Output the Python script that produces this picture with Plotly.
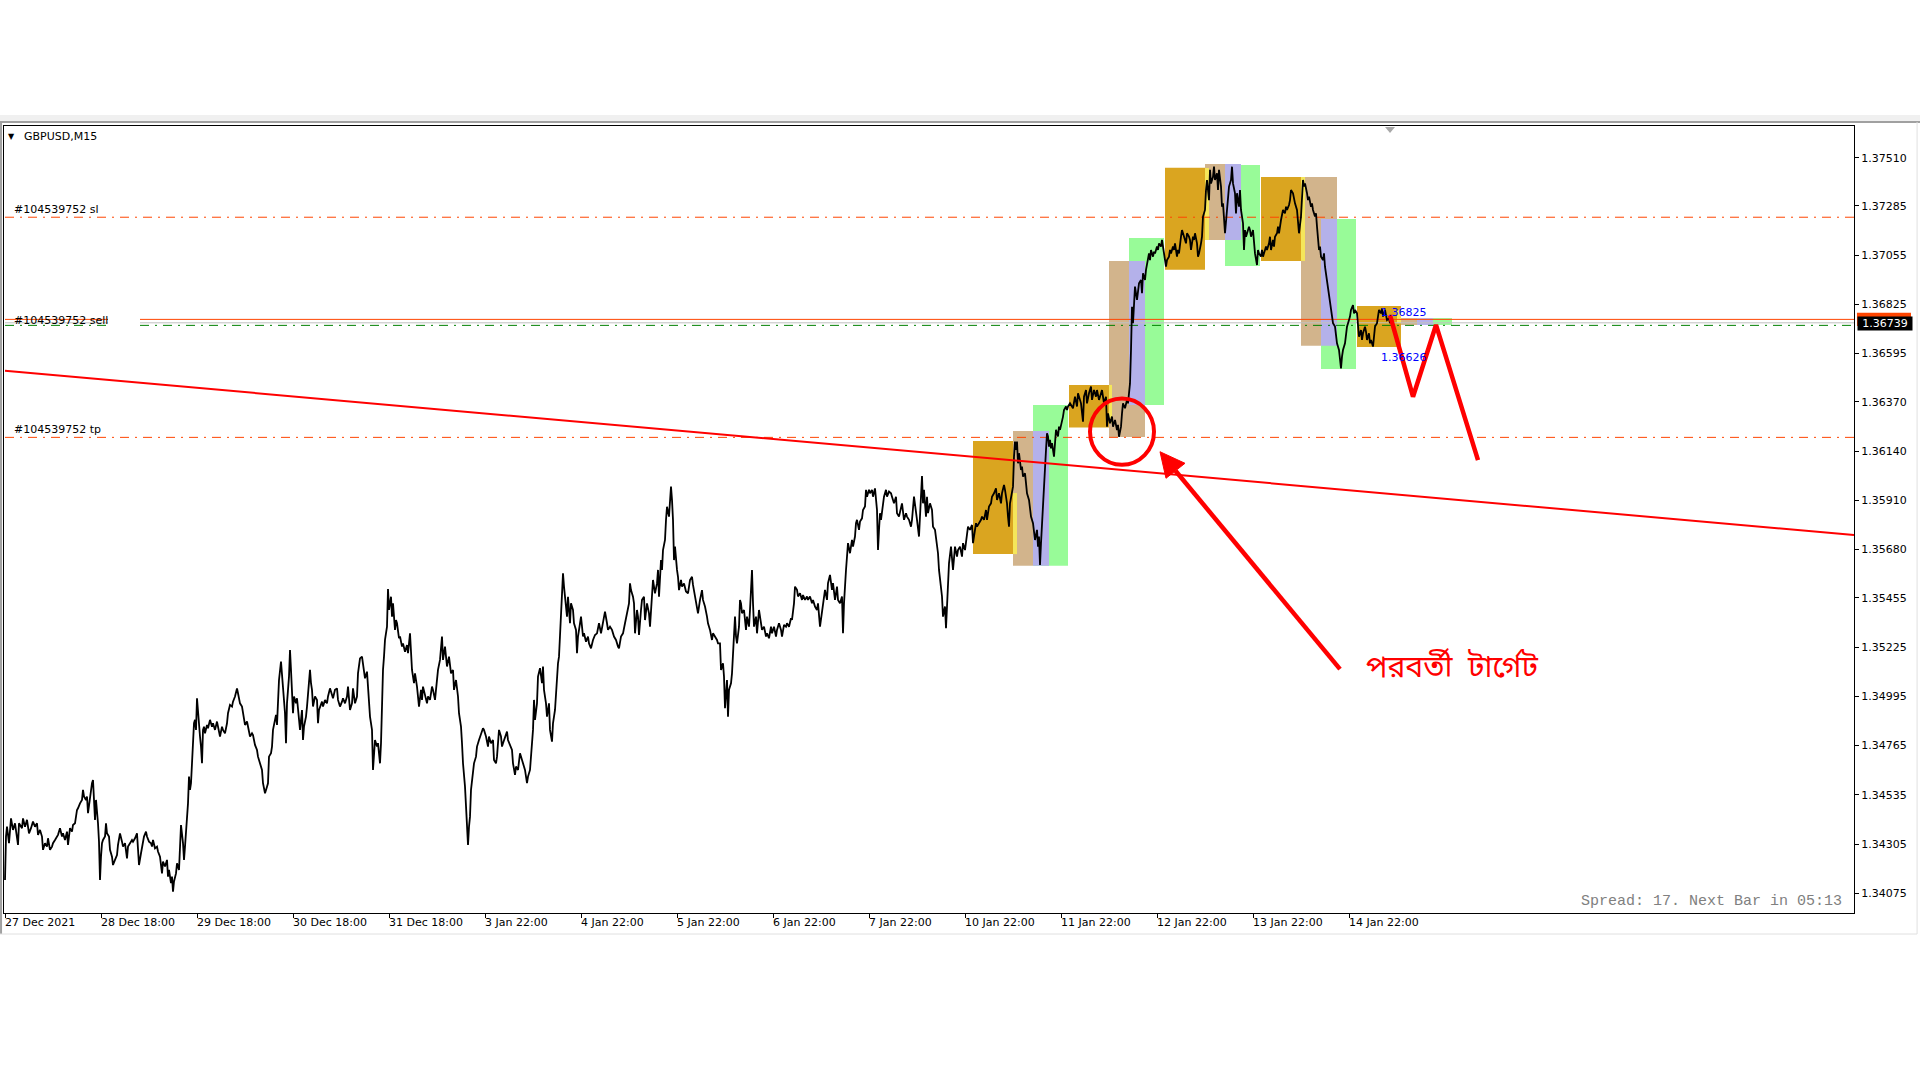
import plotly.graph_objects as go

# ---------------- price data (bar index, close) ----------------
bars_1 = [0,1,2,4,6,8,10,12,13,14,17,18,20,22,24,26,28,30,32,33,35,37,38,40,42,43,45,47,48,50,52,53,55,57,58,60,62,63,65,67,68,70,72,73,75,77,78,79,81,82,83,85,87,88,89,90,91,92,93,94,95,96,97,98,100,101,102,104,105,107,108,110,112,113,115,117,118,120,122,123,125,127,128,130,132,133,134,136,138,139,141,142,144,146,147,148,150,152,153,155,157,158,160,162,163,164,166,167,168,169,171,172,174,175,176,178,179,180,181,182,183,184,185,186,187,188,189,190,191,192,193,194,195,196,197,198,199,200,202,203,205,207,208,210,212,213,215,217,218,220,222,223,225,227,228,230,232,233,235,237,238,240,242,243,245,247,248,250,252,253,255,257,258,260,262,263,264,266,267,268,270,271,272,273,274,276,277,278,280,281,282,284,285,286,287,288,289,291,292,294,295,297,298,299,301,302,304,305,306,307,308,310,312,313,314,316,317,318,320,322,323,325,327,328,330,332,333,335,337,338,340,342,343,345,347,348,350,352,353,355,357,358,360,362,363,365,367,368,370,372,373,375]
close_1 = [1.34137,1.34340,1.34386,1.34309,1.34425,1.34371,1.34402,1.34340,1.34301,1.34402,1.34379,1.34425,1.34386,1.34418,1.34355,1.34379,1.34410,1.34386,1.34402,1.34348,1.34371,1.34340,1.34278,1.34309,1.34293,1.34332,1.34278,1.34293,1.34309,1.34324,1.34340,1.34348,1.34379,1.34340,1.34355,1.34324,1.34363,1.34301,1.34379,1.34363,1.34394,1.34402,1.34464,1.34472,1.34495,1.34511,1.34558,1.34527,1.34511,1.34527,1.34449,1.34527,1.34589,1.34604,1.34527,1.34418,1.34511,1.34464,1.34402,1.34316,1.34137,1.34246,1.34309,1.34324,1.34340,1.34402,1.34355,1.34340,1.34278,1.34246,1.34207,1.34231,1.34254,1.34301,1.34355,1.34316,1.34293,1.34309,1.34238,1.34293,1.34309,1.34324,1.34316,1.34332,1.34355,1.34262,1.34207,1.34262,1.34316,1.34340,1.34363,1.34340,1.34316,1.34309,1.34293,1.34324,1.34285,1.34293,1.34270,1.34246,1.34168,1.34223,1.34200,1.34231,1.34153,1.34184,1.34122,1.34153,1.34083,1.34130,1.34168,1.34215,1.34184,1.34340,1.34394,1.34309,1.34231,1.34293,1.34355,1.34433,1.34495,1.34620,1.34558,1.34589,1.34698,1.34776,1.34869,1.34885,1.34838,1.34986,1.34916,1.34853,1.34807,1.34760,1.34682,1.34838,1.34853,1.34822,1.34861,1.34846,1.34885,1.34853,1.34869,1.34838,1.34877,1.34853,1.34807,1.34853,1.34838,1.34822,1.34869,1.34916,1.34955,1.34947,1.34970,1.34994,1.35032,1.35009,1.34962,1.34947,1.34923,1.34861,1.34877,1.34846,1.34807,1.34822,1.34814,1.34768,1.34744,1.34713,1.34682,1.34651,1.34589,1.34542,1.34573,1.34589,1.34713,1.34729,1.34760,1.34838,1.34885,1.34908,1.34861,1.34947,1.35071,1.35157,1.35087,1.35040,1.34916,1.34776,1.34962,1.35087,1.35211,1.35118,1.35040,1.34916,1.34994,1.34962,1.34986,1.34869,1.34838,1.34931,1.34791,1.34853,1.34900,1.34947,1.35056,1.35118,1.35056,1.35025,1.34947,1.34994,1.34978,1.34869,1.34931,1.34962,1.34970,1.34947,1.34978,1.34962,1.34994,1.35032,1.35001,1.34986,1.35025,1.35032,1.34978,1.34947,1.34970,1.34986,1.34962,1.34994,1.35040,1.34931,1.34962,1.35032,1.34962,1.34994,1.35102,1.35172,1.35180,1.35149,1.35079,1.35110,1.35025,1.34900,1.34838,1.34651,1.34791,1.34760,1.34776,1.34682]

bars_2 = [376,377,378,379,380,382,383,384,386,387,388,390,391,392,394,395,397,398,400,402,403,405,406,407,409,410,412,413,414,416,417,418,420,422,423,425,427,428,430,432,433,435,437,438,440,441,442,444,446,448,449,451,453,454,456,457,458,460,461,462,463,464,465,466,468,469,471,472,474,476,478,479,481,483,484,486,488,489,491,492,494,496,497,498,500,502,503,505,507,508,510,511,513,515,517,518,520,522,523,525,526,528,529,530,532,533,535,537,538,539,541,542,544,545,547,548,550,552,553,554,555,557,558,559,561,562,563,565,566,568,569,571,572,573,575,576,578,579,581,583,584,586,588,590,592,594,596,598,600,602,603,605,607,609,611,613,614,616,618,620,622,624,625,626,628,629,630,632,633,634,636,637,639,640,642,644,645,647,648,650,652,653,654,656,657,658,660,661,662,664,665,666,667,668,669,670,672,673,674,676,677,679,681,683,685,687,688,690,692,693,695,697,698,700,702,703,705,707,708,710,712,713,715,716,718,719,720,722,723,724,726,727,728,730,731,732,734,735]
close_2 = [1.34776,1.34962,1.35118,1.35180,1.35258,1.35320,1.35496,1.35398,1.35460,1.35367,1.35429,1.35305,1.35351,1.35336,1.35266,1.35274,1.35227,1.35242,1.35203,1.35234,1.35196,1.35289,1.35165,1.35118,1.35056,1.35102,1.35040,1.34978,1.34947,1.35025,1.34978,1.35040,1.34994,1.34962,1.34994,1.34978,1.35040,1.35025,1.34978,1.35056,1.35118,1.35165,1.35274,1.35165,1.35227,1.35180,1.35134,1.35180,1.35102,1.35118,1.35025,1.35071,1.34994,1.34916,1.34853,1.34776,1.34682,1.34573,1.34495,1.34371,1.34301,1.34386,1.34433,1.34558,1.34651,1.34682,1.34713,1.34760,1.34791,1.34822,1.34846,1.34838,1.34807,1.34760,1.34807,1.34776,1.34791,1.34698,1.34682,1.34713,1.34838,1.34807,1.34760,1.34776,1.34807,1.34830,1.34791,1.34768,1.34744,1.34682,1.34628,1.34667,1.34651,1.34729,1.34698,1.34682,1.34651,1.34589,1.34620,1.34651,1.34713,1.34838,1.34978,1.34885,1.34962,1.35087,1.35126,1.35056,1.35134,1.35025,1.34962,1.34900,1.34962,1.34838,1.34783,1.34869,1.34931,1.35087,1.35149,1.35180,1.35289,1.35491,1.35569,1.35507,1.35414,1.35367,1.35460,1.35336,1.35429,1.35398,1.35336,1.35305,1.35196,1.35274,1.35336,1.35367,1.35274,1.35289,1.35250,1.35274,1.35242,1.35219,1.35258,1.35281,1.35289,1.35336,1.35289,1.35351,1.35390,1.35336,1.35305,1.35320,1.35305,1.35274,1.35258,1.35227,1.35219,1.35274,1.35289,1.35336,1.35382,1.35429,1.35522,1.35491,1.35460,1.35429,1.35289,1.35398,1.35367,1.35281,1.35398,1.35445,1.35460,1.35351,1.35429,1.35382,1.35320,1.35507,1.35538,1.35476,1.35522,1.35585,1.35460,1.35631,1.35585,1.35678,1.35725,1.35818,1.35880,1.35834,1.35927,1.35974,1.35912,1.35818,1.35631,1.35694,1.35585,1.35553,1.35491,1.35538,1.35507,1.35522,1.35484,1.35476,1.35538,1.35553,1.35515,1.35460,1.35414,1.35382,1.35445,1.35491,1.35445,1.35414,1.35367,1.35336,1.35305,1.35258,1.35289,1.35274,1.35258,1.35242,1.35242,1.35118,1.35149,1.35087,1.34939,1.35071,1.34900,1.35025,1.35056,1.35102,1.35211,1.35367,1.35274,1.35242,1.35320,1.35445]

bars_3 = [736,737,739,741,742,744,745,747,748,749,751,752,754,756,757,759,761,762,764,766,767,769,771,772,774,776,777,779,781,782,784,786,787,789,790,792,793,795,797,798,800,802,803,805,807,808,810,812,813,815,817,818,820,822,823,825,827,828,830,832,833,835,837,838,839,841,842,843,845,847,848,850,851,852,854,855,857,858,860,861,862,864,865,867,868,870,872,873,874,875,876,878,879,881,882,884,886,887,889,891,892,894,896,897,899,901,902,904,906,907,909,911,912,914,915,916,917,918,919,921,922,923,925,927,928,930,932,933,934,936,937,938,940,941,942,943,944,946,947,948,950,952,953,955,957,958,960,962,963,965,967,968,970,971,972,974,976,977,979,981,982,984,986,987,989,991,992,994,996,997,999,1000,1002,1003,1004,1005,1006,1008,1009,1010,1011,1012,1013,1014,1016,1017,1018,1020,1021,1022,1024,1025,1026,1028,1029,1030,1032,1033,1034,1035,1036,1037,1038,1039,1040,1041,1042,1043,1044,1045,1046,1047,1049,1050,1051,1053,1054,1055,1057,1058,1059,1061,1062,1063,1065,1068,1070,1072,1073]
close_3 = [1.35429,1.35383,1.35398,1.35305,1.35367,1.35320,1.35398,1.35585,1.35429,1.35320,1.35367,1.35289,1.35398,1.35336,1.35305,1.35320,1.35274,1.35289,1.35266,1.35320,1.35289,1.35320,1.35274,1.35305,1.35336,1.35305,1.35274,1.35328,1.35320,1.35336,1.35320,1.35359,1.35352,1.35429,1.35507,1.35492,1.35461,1.35476,1.35445,1.35468,1.35445,1.35461,1.35445,1.35461,1.35429,1.35445,1.35414,1.35398,1.35429,1.35320,1.35398,1.35429,1.35492,1.35445,1.35523,1.35562,1.35492,1.35523,1.35445,1.35507,1.35445,1.35429,1.35461,1.35289,1.35429,1.35585,1.35647,1.35710,1.35663,1.35725,1.35694,1.35741,1.35803,1.35819,1.35772,1.35811,1.35826,1.35865,1.35881,1.35959,1.35927,1.35959,1.35943,1.35959,1.35927,1.35966,1.35865,1.35678,1.35772,1.35850,1.35819,1.35896,1.35927,1.35959,1.35927,1.35951,1.35943,1.35927,1.35896,1.35927,1.35850,1.35834,1.35881,1.35896,1.35819,1.35850,1.35834,1.35819,1.35787,1.35819,1.35927,1.35865,1.35819,1.35741,1.35850,1.35966,1.36024,1.35896,1.35959,1.35834,1.35927,1.35850,1.35896,1.35865,1.35787,1.35772,1.35710,1.35663,1.35585,1.35507,1.35461,1.35367,1.35414,1.35313,1.35414,1.35523,1.35616,1.35694,1.35647,1.35585,1.35694,1.35647,1.35678,1.35694,1.35647,1.35710,1.35678,1.35756,1.35787,1.35772,1.35795,1.35710,1.35772,1.35803,1.35787,1.35803,1.35819,1.35834,1.35819,1.35865,1.35819,1.35881,1.35896,1.35927,1.35943,1.35966,1.35912,1.35943,1.35896,1.35943,1.35982,1.35959,1.35896,1.35834,1.35787,1.35896,1.35927,1.35974,1.36114,1.36184,1.36145,1.36184,1.36083,1.36130,1.36052,1.36068,1.36021,1.36036,1.35990,1.35943,1.35912,1.35881,1.35834,1.35803,1.35756,1.35725,1.35772,1.35694,1.35741,1.35608,1.35710,1.35803,1.35927,1.35974,1.36052,1.36145,1.36223,1.36208,1.36161,1.36192,1.36153,1.36177,1.36114,1.36192,1.36239,1.36208,1.36254,1.36239,1.36278,1.36301,1.36332,1.36348,1.36332,1.36348,1.36363,1.36340,1.36394,1.36348,1.36410]

bars_4 = [1076,1078,1079,1081,1082,1084,1086,1087,1089,1091,1092,1094,1096,1097,1099,1101,1102,1103,1105,1107,1108,1110,1112,1113,1114,1116,1117,1118,1120,1122,1123,1125,1126,1127,1128,1129,1130,1132,1133,1134,1136,1137,1138,1140,1141,1142,1144,1145,1146,1148,1149,1150,1152,1153,1154,1156,1157,1158,1160,1161,1162,1164,1165,1166,1168,1169,1170,1172,1173,1174,1176,1177,1178,1180,1181,1182,1184,1185,1186,1188,1189,1190,1192,1193,1194,1196,1197,1198,1200,1201,1202,1204,1205,1206,1208,1209,1210,1212,1213,1214,1216,1217,1218,1220,1221,1222,1223,1224,1226,1227,1228,1230,1231,1232,1234,1235,1236,1238,1239,1240,1241,1242,1244,1245,1246,1248,1249,1250,1252,1253,1254,1256,1257,1258,1260,1261,1262,1264,1265,1266,1268,1269,1270,1272,1273,1274,1276,1277,1278,1280,1281,1282,1284,1285,1286,1288,1289,1290,1292,1293,1294,1296,1297,1298,1299,1300,1302,1303,1304,1306,1307,1308,1310,1311,1312,1314,1315,1316,1318,1319,1320,1322,1323,1324,1326,1327,1328,1330,1331,1332,1334,1335,1336,1337,1338,1340,1341,1342,1344,1345,1346,1348,1349,1350,1352,1353,1354,1356,1357,1358,1360,1361,1362,1364,1365,1366,1368,1369,1370,1372,1373,1374,1376,1377,1378,1380,1381,1382,1384,1385]
close_4 = [1.36363,1.36277,1.36394,1.36425,1.36363,1.36410,1.36441,1.36379,1.36425,1.36394,1.36425,1.36379,1.36410,1.36425,1.36363,1.36394,1.36254,1.36316,1.36270,1.36301,1.36254,1.36285,1.36238,1.36262,1.36207,1.36254,1.36316,1.36363,1.36340,1.36379,1.36363,1.36456,1.36612,1.36814,1.36737,1.36830,1.36908,1.36846,1.36892,1.36923,1.36939,1.36877,1.36970,1.36939,1.36986,1.37017,1.37063,1.37032,1.37079,1.37048,1.37071,1.37063,1.37095,1.37079,1.37110,1.37095,1.37126,1.37095,1.37032,1.37001,1.37032,1.37048,1.37079,1.37063,1.37095,1.37079,1.37110,1.37048,1.37079,1.37063,1.37141,1.37172,1.37157,1.37126,1.37110,1.37157,1.37141,1.37126,1.37079,1.37141,1.37126,1.37157,1.37110,1.37048,1.37063,1.37110,1.37141,1.37235,1.37266,1.37359,1.37406,1.37312,1.37453,1.37390,1.37421,1.37468,1.37406,1.37437,1.37359,1.37453,1.37375,1.37281,1.37297,1.37157,1.37204,1.37250,1.37312,1.37375,1.37406,1.37468,1.37390,1.37344,1.37250,1.37344,1.37281,1.37359,1.37266,1.37204,1.37079,1.37172,1.37141,1.37157,1.37188,1.37172,1.37141,1.37172,1.37095,1.37063,1.37009,1.37079,1.37063,1.37048,1.37079,1.37048,1.37079,1.37095,1.37079,1.37110,1.37141,1.37079,1.37126,1.37095,1.37141,1.37157,1.37188,1.37157,1.37219,1.37250,1.37266,1.37250,1.37281,1.37266,1.37289,1.37312,1.37359,1.37344,1.37312,1.37297,1.37266,1.37204,1.37157,1.37235,1.37359,1.37406,1.37375,1.37390,1.37344,1.37312,1.37328,1.37281,1.37297,1.37266,1.37235,1.37250,1.37188,1.37079,1.37095,1.37048,1.37032,1.37063,1.37001,1.36939,1.36892,1.36861,1.36799,1.36768,1.36737,1.36721,1.36674,1.36643,1.36612,1.36565,1.36526,1.36581,1.36612,1.36643,1.36674,1.36721,1.36752,1.36768,1.36799,1.36822,1.36783,1.36799,1.36783,1.36705,1.36674,1.36705,1.36659,1.36690,1.36721,1.36698,1.36659,1.36690,1.36643,1.36659,1.36628,1.36674,1.36721,1.36737,1.36768,1.36799,1.36783,1.36806,1.36768,1.36799,1.36775,1.36752,1.36760,1.36737]

# ---------------- axes ----------------
y_tick_vals = [1.37510, 1.37285, 1.37055, 1.36825, 1.36595, 1.36370, 1.36140, 1.35910,
               1.35680, 1.35455, 1.35225, 1.34995, 1.34765, 1.34535, 1.34305, 1.34075]
x_tick_bars = [0, 96, 192, 288, 384, 480, 576, 672, 768, 864, 960, 1056, 1152, 1248, 1344]
x_tick_labels = ["27 Dec 2021", "28 Dec 18:00", "29 Dec 18:00", "30 Dec 18:00", "31 Dec 18:00",
                 "3 Jan 22:00", "4 Jan 22:00", "5 Jan 22:00", "6 Jan 22:00", "7 Jan 22:00",
                 "10 Jan 22:00", "11 Jan 22:00", "12 Jan 22:00", "13 Jan 22:00", "14 Jan 22:00"]
x_range = [-1, 1849]
y_range = [1.33983, 1.37658]

# ---------------- order levels ----------------
sl_price = 1.37232
sell_price = 1.36755
bid_price = 1.36739
open_price = 1.36727
tp_price = 1.36204
order_id = "#104539752"
trend_bars = [0, 1849]
trend_price = [1.36515, 1.35748]

# ---------------- session boxes ----------------
GOLD, TAN, GREEN, LAV, YEL = "#DAA520", "#D2B48C", "#98FB98", "#B4B1EA", "#F5E65A"
box_x0 = [968, 1008, 1028, 1028, 1008,
          1064, 1104, 1124, 1124, 1104,
          1160, 1200, 1220, 1220, 1200,
          1256, 1296, 1316, 1316, 1296,
          1352, 1392, 1396, 1412, 1428]
box_x1 = [1008, 1028, 1063, 1044, 1012,
          1104, 1140, 1159, 1140, 1107,
          1200, 1236, 1255, 1236, 1204,
          1296, 1332, 1351, 1332, 1300,
          1396, 1396, 1412, 1428, 1447]
box_lo = [1.35659, 1.35605, 1.35605, 1.35605, 1.35659,
          1.36250, 1.36206, 1.36355, 1.36355, 1.36271,
          1.36987, 1.37126, 1.37004, 1.37126, 1.37126,
          1.37028, 1.36632, 1.36523, 1.36632, 1.37028,
          1.36626, 1.36737, 1.36729, 1.36729, 1.36729]
box_hi = [1.36187, 1.36234, 1.36355, 1.36234, 1.35944,
          1.36449, 1.37028, 1.37135, 1.37028, 1.36449,
          1.37463, 1.37481, 1.37476, 1.37481, 1.37462,
          1.37420, 1.37420, 1.37224, 1.37224, 1.37420,
          1.36818, 1.36798, 1.36761, 1.36761, 1.36761]
box_color = [GOLD, TAN, GREEN, LAV, YEL,
             GOLD, TAN, GREEN, LAV, YEL,
             GOLD, TAN, GREEN, LAV, YEL,
             GOLD, TAN, GREEN, LAV, YEL,
             GOLD, YEL, TAN, LAV, GREEN]
range_hi_label = "1.36825"
range_lo_label = "1.36626"
range_label_bar = 1374
range_label_price = [1.36788, 1.36578]

# ---------------- hand drawn markup ----------------
zz_bars = [1385, 1408, 1431, 1473]
zz_price = [1.36775, 1.36394, 1.36729, 1.36098]
circ_bars = [1085, 1149]
circ_price = [1.36076, 1.36385]
arrow_tail = (1335, 1.35122)
arrow_base = (1170.5, 1.36048)
arrow_head = [(1155, 1.36137), (1180, 1.36083), (1161, 1.36013)]
note_text = "পরবর্তী  টার্গেট"
note_pos = (1447, 1.35127)

FONT = "DejaVu Sans, Verdana, sans-serif"
ORANGE = "#FF4500"
RED = "#FF0000"

bars = bars_1 + bars_2 + bars_3 + bars_4
close = close_1 + close_2 + close_3 + close_4

fig = go.Figure()
fig.add_trace(go.Scatter(x=bars, y=close, mode="lines",
                         line=dict(color="black", width=1.8), hoverinfo="skip", showlegend=False))
fig.add_trace(go.Scatter(x=zz_bars, y=zz_price, mode="lines",
                         line=dict(color=RED, width=4.5), hoverinfo="skip", showlegend=False))

shapes = []
for x0, x1, lo, hi, c in zip(box_x0, box_x1, box_lo, box_hi, box_color):
    shapes.append(dict(type="rect", xref="x", yref="y", x0=x0, x1=x1, y0=lo, y1=hi,
                       fillcolor=c, line=dict(width=0), layer="below"))

DASHDOT = "9px,6px,2px,6px"
shapes.append(dict(type="line", xref="x", yref="y", x0=0, x1=x_range[1], y0=sl_price, y1=sl_price,
                   line=dict(color=ORANGE, width=1, dash=DASHDOT), layer="below"))
shapes.append(dict(type="line", xref="x", yref="y", x0=0, x1=x_range[1], y0=tp_price, y1=tp_price,
                   line=dict(color=ORANGE, width=1, dash=DASHDOT), layer="below"))
for seg in [(0, 103), (135, x_range[1])]:
    shapes.append(dict(type="line", xref="x", yref="y", x0=seg[0], x1=seg[1], y0=bid_price, y1=bid_price,
                       line=dict(color="#C0C0C0", width=1), layer="below"))
    shapes.append(dict(type="line", xref="x", yref="y", x0=seg[0], x1=seg[1], y0=sell_price, y1=sell_price,
                       line=dict(color=ORANGE, width=1), layer="below"))
    shapes.append(dict(type="line", xref="x", yref="y", x0=seg[0], x1=seg[1], y0=open_price, y1=open_price,
                       line=dict(color="#008000", width=1, dash=DASHDOT), layer="below"))

# trend line
shapes.append(dict(type="line", xref="x", yref="y", x0=trend_bars[0], x1=trend_bars[1],
                   y0=trend_price[0], y1=trend_price[1], line=dict(color=RED, width=2), layer="above"))
# circle
shapes.append(dict(type="circle", xref="x", yref="y", x0=circ_bars[0], x1=circ_bars[1],
                   y0=circ_price[0], y1=circ_price[1], line=dict(color=RED, width=4), layer="above"))
# arrow
shapes.append(dict(type="line", xref="x", yref="y", x0=arrow_tail[0], y0=arrow_tail[1],
                   x1=arrow_base[0], y1=arrow_base[1], line=dict(color=RED, width=4.5), layer="above"))
p = arrow_head
shapes.append(dict(type="path", xref="x", yref="y",
                   path=f"M {p[0][0]} {p[0][1]} L {p[1][0]} {p[1][1]} L {p[2][0]} {p[2][1]} Z",
                   fillcolor=RED, line=dict(color=RED, width=1), layer="above"))

# sell price tag on the axis (mostly hidden behind the bid tag)
span = y_range[1] - y_range[0]
sell_frac = (sell_price - y_range[0]) / span
shapes.append(dict(type="rect", xref="paper", yref="paper", x0=1.0016, x1=1.0308,
                   y0=sell_frac - 0.0085, y1=sell_frac + 0.0085, fillcolor=ORANGE, line=dict(width=0)))

# window chrome (paper coords)
shapes.append(dict(type="rect", xref="paper", yref="paper", x0=-0.0022, x1=1.0357, y0=1.0064, y1=1.0140,
                   fillcolor="#F0F0F0", line=dict(width=0)))
shapes.append(dict(type="line", xref="paper", yref="paper", x0=-0.0022, x1=1.0357, y0=1.0051, y1=1.0051,
                   line=dict(color="#A0A0A0", width=2)))
shapes.append(dict(type="line", xref="paper", yref="paper", x0=-0.0016, x1=-0.0016, y0=-0.0267, y1=1.005,
                   line=dict(color="#A0A0A0", width=2)))
shapes.append(dict(type="line", xref="paper", yref="paper", x0=-0.0022, x1=1.0341, y0=-0.0267, y1=-0.0267,
                   line=dict(color="#E0E0E0", width=1)))
shapes.append(dict(type="line", xref="paper", yref="paper", x0=1.0341, x1=1.0341, y0=-0.0267, y1=1.005,
                   line=dict(color="#E0E0E0", width=1)))
shapes.append(dict(type="path", xref="paper", yref="paper",
                   path="M 0.7465 0.9987 L 0.7519 0.9987 L 0.7492 0.9911 Z",
                   fillcolor="#A8A8A8", line=dict(width=0)))

annotations = []
for b, t in zip(x_tick_bars, x_tick_labels):
    annotations.append(dict(x=b, y=-0.0127, xref="x", yref="paper", text=t, showarrow=False,
                            xanchor="left", yanchor="middle", xshift=-2,
                            font=dict(family=FONT, size=11, color="black")))
annotations.append(dict(x=0.0038, y=0.9864, xref="paper", yref="paper", text="▼", showarrow=False,
                        xanchor="center", yanchor="middle", font=dict(family="DejaVu Sans", size=8, color="black")))
annotations.append(dict(x=0.0097, y=0.9864, xref="paper", yref="paper", text="GBPUSD,M15", showarrow=False,
                        xanchor="left", yanchor="middle", font=dict(family=FONT, size=11, color="black")))
annotations.append(dict(x=0.9946, y=0.0140, xref="paper", yref="paper", text="Spread: 17. Next Bar in 05:13",
                        showarrow=False, xanchor="right", yanchor="middle",
                        font=dict(family="Liberation Mono, Courier New, monospace", size=15, color="#808080")))
for lvl, name, anchor in [(sl_price, "sl", "bottom"), (sell_price, "sell", "middle"), (tp_price, "tp", "bottom")]:
    annotations.append(dict(x=8, y=lvl, xref="x", yref="y", text=f"{order_id} {name}", showarrow=False,
                            xanchor="left", yanchor=anchor, borderpad=0, yshift=-1 if anchor == "middle" else 0,
                            font=dict(family=FONT, size=11, color="black")))
annotations.append(dict(x=range_label_bar, y=range_label_price[0], xref="x", yref="y", text=range_hi_label,
                        showarrow=False, xanchor="left", yanchor="middle",
                        font=dict(family=FONT, size=11, color="#0000FF")))
annotations.append(dict(x=range_label_bar, y=range_label_price[1], xref="x", yref="y", text=range_lo_label,
                        showarrow=False, xanchor="left", yanchor="middle",
                        font=dict(family=FONT, size=11, color="#0000FF")))
# bid price tag on the right axis
annotations.append(dict(x=1.0016, y=bid_price, xref="paper", yref="y", text=f"{bid_price:.5f}",
                        showarrow=False, xanchor="left", yanchor="middle", bgcolor="black", yshift=-1,
                        width=54, height=13, borderpad=0, font=dict(family=FONT, size=11, color="white")))
annotations.append(dict(x=note_pos[0], y=note_pos[1], xref="x", yref="y", text=note_text,
                        showarrow=False, xanchor="center", yanchor="middle",
                        font=dict(family="Noto Sans Bengali, Noto Sans, sans-serif", size=30, color=RED)))

fig.update_layout(
    width=1920, height=1080,
    margin=dict(l=4, r=66, t=126, b=167, autoexpand=False),
    paper_bgcolor="white", plot_bgcolor="white",
    showlegend=False,
    shapes=shapes, annotations=annotations,
    xaxis=dict(range=x_range, tickvals=x_tick_bars, showticklabels=False, ticks="outside", ticklen=4,
               tickcolor="black", showgrid=False, zeroline=False, showline=True, linecolor="black",
               linewidth=1, mirror=True, fixedrange=True),
    yaxis=dict(range=y_range, side="right", tickvals=y_tick_vals,
               ticktext=[f"{v:.5f}" for v in y_tick_vals], ticks="outside", ticklen=4, tickcolor="black",
               showgrid=False, zeroline=False, showline=True, linecolor="black", linewidth=1, mirror=True,
               tickfont=dict(family=FONT, size=11, color="black"), fixedrange=True),
)

fig.write_html("out.html", config={"displayModeBar": False},
               post_script="document.body.style.margin='0';document.body.style.overflow='hidden';")
